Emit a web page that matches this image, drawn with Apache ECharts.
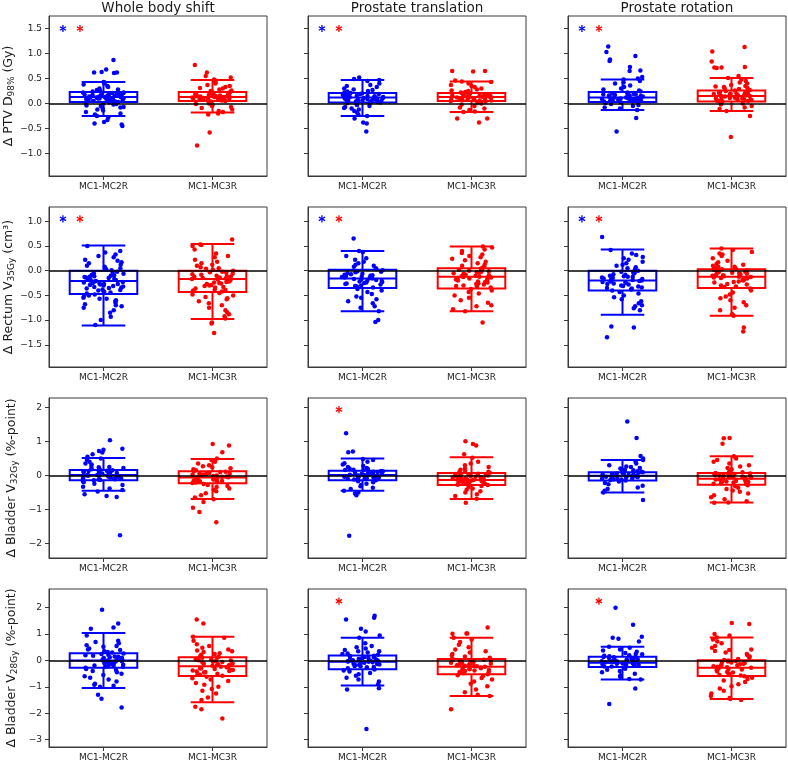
<!DOCTYPE html>
<html><head><meta charset="utf-8">
<script src="https://cdn.jsdelivr.net/npm/echarts@6/dist/echarts.min.js"></script>
<style>html,body{margin:0;padding:0;background:#fff}#c{width:788px;height:762px}</style>
</head><body><div id="c"></div>
<script>
// ---------- DATA ----------
const categories = ['MC1-MC2R', 'MC1-MC3R'];
const columnTitles = ['Whole body shift', 'Prostate translation', 'Prostate rotation'];
const rowLabels = [
  'Δ PTV D{s|98%} (Gy)',
  'Δ Rectum V{s|35Gy} (cm³)',
  'Δ Bladder V{s|32Gy} (%-point)',
  'Δ Bladder V{s|28Gy} (%-point)'
];
const yTickValues = [
  [-1.0, -0.5, 0.0, 0.5, 1.0, 1.5],
  [-1.5, -1.0, -0.5, 0.0, 0.5, 1.0],
  [-2, -1, 0, 1, 2],
  [-3, -2, -1, 0, 1, 2]
];
const yTickDecimals = [1, 1, 0, 0];
const yLimits = [[-1.45, 1.75], [-1.95, 1.29], [-2.42, 2.27], [-3.28, 2.71]];

// box stats per row: [wb MC2R, wb MC3R, pt MC2R, pt MC3R, pr MC2R, pr MC3R], each [low whisker, Q1, median, Q3, high whisker]
const box_ptv  = [[-0.25,0.03,0.13,0.23,0.43],[-0.18,0.05,0.13,0.23,0.47],[-0.25,0.02,0.12,0.21,0.47],[-0.17,0.05,0.13,0.21,0.44],[-0.13,0.03,0.12,0.23,0.48],[-0.15,0.04,0.15,0.26,0.51]];
const box_rect = [[-1.11,-0.47,-0.21,0.0,0.51],[-0.98,-0.43,-0.17,0.0,0.54],[-0.82,-0.35,-0.16,0.02,0.40],[-0.82,-0.36,-0.12,0.05,0.49],[-0.89,-0.40,-0.20,0.0,0.43],[-0.91,-0.35,-0.12,0.03,0.45]];
const box_bl32 = [[-0.45,-0.14,0.01,0.16,0.51],[-0.69,-0.23,-0.06,0.12,0.48],[-0.45,-0.14,0.01,0.14,0.50],[-0.69,-0.28,-0.13,0.07,0.53],[-0.50,-0.15,-0.01,0.09,0.45],[-0.79,-0.27,-0.10,0.07,0.56]];
const box_bl28 = [[-1.04,-0.28,0.0,0.27,1.04],[-1.58,-0.59,-0.22,0.12,0.90],[-0.95,-0.33,-0.05,0.19,0.86],[-1.35,-0.52,-0.24,0.06,0.86],[-0.72,-0.25,-0.09,0.14,0.52],[-1.46,-0.59,-0.28,0.01,0.87]];

// significance asterisks: y level per row, flags per column [MC2R(blue), MC3R(red)]
const sigLevel = [1.5, 1.05, 1.93, 2.25];
const sigFlags = [
  [[1,1],[1,1],[1,1]],
  [[1,1],[1,1],[1,1]],
  [[0,0],[0,1],[0,0]],
  [[0,0],[0,1],[0,1]]
];

// individual patient values
const ptv_wb_2 = [0.87,0.68,0.63,0.62,0.62,0.61,0.43,0.42,0.40,0.38,0.35,0.33,0.30,0.28,0.27,0.25,0.24,0.22,0.21,0.20,0.19,0.18,0.17,0.16,0.15,0.15,0.14,0.13,0.12,0.12,0.11,0.10,0.10,0.09,0.08,0.07,0.06,0.05,0.05,0.04,0.03,0.02,0.01,0.00,-0.01,-0.02,-0.04,-0.05,-0.07,-0.08,-0.10,-0.12,-0.14,-0.17,-0.20,-0.22,-0.25,-0.28,-0.33,-0.37,-0.40,-0.42,-0.45,0.05,0.07,0.09,0.11,0.13,0.14,0.16,0.18,0.20,0.22,0.08,0.12,0.17,0.19,0.21];
const ptv_wb_3 = [0.77,0.62,0.55,0.52,0.48,0.46,0.45,0.42,0.40,0.37,0.35,0.33,0.31,0.30,0.28,0.26,0.25,0.23,0.22,0.21,0.20,0.19,0.18,0.17,0.16,0.15,0.14,0.13,0.13,0.12,0.11,0.10,0.09,0.08,0.07,0.06,0.05,0.04,0.03,0.02,0.00,-0.01,-0.03,-0.05,-0.07,-0.09,-0.12,-0.15,-0.17,-0.20,-0.22,-0.58,-0.84,0.06,0.08,0.10,0.12,0.14,0.15,0.17,0.19,0.21,0.11,0.13,0.16,0.18,0.09];
const ptv_pt_2 = [0.52,0.49,0.47,0.45,0.40,0.37,0.35,0.33,0.30,0.28,0.27,0.25,0.24,0.22,0.21,0.20,0.19,0.18,0.17,0.16,0.15,0.14,0.13,0.12,0.12,0.11,0.10,0.09,0.08,0.08,0.07,0.06,0.05,0.04,0.03,0.02,0.01,0.00,-0.02,-0.03,-0.05,-0.07,-0.09,-0.10,-0.12,-0.15,-0.18,-0.22,-0.25,-0.30,-0.38,-0.40,-0.56,0.03,0.05,0.07,0.09,0.11,0.13,0.15,0.17,0.19,0.06,0.10,0.14,0.04];
const ptv_pt_3 = [0.65,0.64,0.65,0.46,0.44,0.43,0.40,0.37,0.35,0.33,0.30,0.28,0.26,0.25,0.23,0.22,0.20,0.19,0.18,0.17,0.16,0.15,0.14,0.13,0.13,0.12,0.11,0.10,0.09,0.08,0.07,0.06,0.05,0.04,0.02,0.00,-0.02,-0.05,-0.08,-0.10,-0.13,-0.16,-0.17,-0.30,-0.30,-0.38,0.06,0.08,0.10,0.12,0.14,0.16,0.18,0.20,0.07,0.11,0.15,0.09,0.13,0.17];
const ptv_pr_2 = [1.14,1.03,0.95,0.88,0.85,0.73,0.66,0.65,0.53,0.50,0.48,0.45,0.42,0.40,0.36,0.33,0.30,0.28,0.26,0.24,0.22,0.21,0.20,0.19,0.18,0.17,0.16,0.15,0.14,0.13,0.12,0.12,0.11,0.10,0.09,0.08,0.07,0.06,0.05,0.04,0.03,0.02,0.01,-0.01,-0.03,-0.05,-0.08,-0.10,-0.13,-0.29,-0.56,0.04,0.06,0.08,0.10,0.12,0.14,0.16,0.18,0.20,0.05,0.09,0.13,0.07,0.11];
const ptv_pr_3 = [1.13,1.04,0.84,0.73,0.72,0.72,0.71,0.55,0.51,0.48,0.45,0.42,0.40,0.37,0.35,0.33,0.31,0.29,0.27,0.26,0.24,0.22,0.21,0.20,0.19,0.18,0.17,0.16,0.15,0.14,0.13,0.12,0.11,0.10,0.09,0.08,0.07,0.06,0.05,0.04,0.02,0.00,-0.02,-0.05,-0.08,-0.11,-0.15,-0.25,-0.67,0.05,0.08,0.10,0.12,0.15,0.18,0.20,0.23,0.25,0.07,0.13,0.16,0.22,0.30,0.34];

const rect_wb_2 = [0.50,0.40,0.37,0.33,0.30,0.27,0.22,0.20,0.17,0.15,0.12,0.10,0.08,0.05,0.03,0.01,-0.02,-0.04,-0.06,-0.08,-0.10,-0.12,-0.14,-0.15,-0.17,-0.19,-0.20,-0.21,-0.22,-0.24,-0.25,-0.27,-0.28,-0.30,-0.31,-0.33,-0.34,-0.36,-0.38,-0.40,-0.42,-0.44,-0.46,-0.48,-0.50,-0.52,-0.55,-0.57,-0.57,-0.60,-0.62,-0.65,-0.68,-0.70,-0.72,-0.75,-0.80,-0.85,-0.93,-1.00,-1.10,-0.05,-0.09,-0.13,-0.18,-0.23,-0.26,-0.29,-0.32,-0.35,-0.39,-0.43,-0.16,-0.27,-0.11];
const rect_wb_3 = [0.63,0.53,0.52,0.50,0.43,0.35,0.30,0.27,0.22,0.18,0.15,0.12,0.10,0.07,0.05,0.02,0.00,-0.02,-0.04,-0.06,-0.08,-0.10,-0.12,-0.14,-0.16,-0.17,-0.19,-0.21,-0.23,-0.25,-0.27,-0.29,-0.31,-0.33,-0.36,-0.38,-0.40,-0.42,-0.45,-0.48,-0.50,-0.53,-0.56,-0.58,-0.62,-0.66,-0.70,-0.75,-0.80,-0.84,-0.88,-0.92,-0.97,-1.05,-1.07,-1.26,-0.03,-0.07,-0.11,-0.15,-0.18,-0.22,-0.26,-0.30,-0.34,-0.39,-0.13,-0.20,-0.24,0.04];
const rect_pt_2 = [0.65,0.40,0.38,0.30,0.25,0.22,0.18,0.15,0.12,0.10,0.08,0.05,0.03,0.01,-0.01,-0.03,-0.05,-0.07,-0.09,-0.11,-0.13,-0.15,-0.16,-0.18,-0.20,-0.22,-0.24,-0.26,-0.28,-0.30,-0.32,-0.34,-0.37,-0.40,-0.43,-0.47,-0.52,-0.55,-0.58,-0.62,-0.66,-0.72,-0.75,-0.82,-1.00,-1.04,-0.02,-0.06,-0.10,-0.14,-0.17,-0.19,-0.23,-0.27,-0.31,-0.12,-0.21,-0.25,-0.08];
const rect_pt_3 = [0.49,0.47,0.43,0.40,0.36,0.33,0.30,0.27,0.24,0.21,0.18,0.15,0.12,0.10,0.08,0.06,0.04,0.02,0.00,-0.02,-0.04,-0.06,-0.08,-0.10,-0.12,-0.14,-0.16,-0.18,-0.20,-0.22,-0.24,-0.26,-0.28,-0.30,-0.32,-0.34,-0.37,-0.40,-0.43,-0.46,-0.50,-0.55,-0.60,-0.65,-0.70,-0.72,-0.78,-0.82,-1.05,0.03,-0.01,-0.05,-0.09,-0.13,-0.15,-0.19,-0.23,-0.27,-0.31,-0.11,-0.17,-0.07,-0.03];
const rect_pr_2 = [0.68,0.42,0.35,0.32,0.28,0.25,0.22,0.18,0.15,0.12,0.10,0.07,0.05,0.02,0.00,-0.02,-0.04,-0.06,-0.08,-0.10,-0.12,-0.14,-0.16,-0.18,-0.20,-0.22,-0.24,-0.26,-0.28,-0.30,-0.32,-0.34,-0.36,-0.38,-0.40,-0.43,-0.46,-0.50,-0.54,-0.58,-0.62,-0.66,-0.70,-0.72,-0.76,-0.80,-1.13,-1.15,-1.35,-0.03,-0.07,-0.11,-0.15,-0.19,-0.23,-0.27,-0.31,-0.35,-0.17,-0.21,-0.25,-0.13];
const rect_pr_3 = [0.45,0.42,0.38,0.35,0.33,0.30,0.25,0.20,0.17,0.14,0.12,0.10,0.08,0.06,0.04,0.03,0.02,0.00,-0.02,-0.04,-0.06,-0.08,-0.10,-0.12,-0.14,-0.16,-0.18,-0.20,-0.22,-0.24,-0.27,-0.30,-0.33,-0.36,-0.40,-0.44,-0.48,-0.52,-0.56,-0.60,-0.64,-0.70,-0.75,-0.80,-0.88,-0.91,-1.15,-1.23,0.01,-0.01,-0.03,-0.05,-0.07,-0.09,-0.11,-0.13,-0.15,-0.19,-0.23,-0.28,-0.32,0.05,0.08];

const bl32_wb_2 = [1.03,0.78,0.75,0.72,0.67,0.62,0.55,0.50,0.45,0.40,0.35,0.32,0.28,0.25,0.22,0.20,0.17,0.15,0.13,0.11,0.09,0.07,0.05,0.03,0.02,0.01,0.00,-0.01,-0.02,-0.04,-0.06,-0.08,-0.10,-0.12,-0.14,-0.17,-0.20,-0.24,-0.28,-0.33,-0.38,-0.43,-0.47,-0.55,-0.60,-0.63,-1.75,0.14,0.10,0.06,0.04,0.00,-0.03,-0.05,-0.07,-0.09,-0.11,-0.13,0.08,0.12,0.18,0.24];
const bl32_wb_3 = [0.92,0.88,0.68,0.50,0.45,0.40,0.35,0.30,0.27,0.24,0.21,0.18,0.15,0.12,0.10,0.08,0.06,0.04,0.02,0.00,-0.02,-0.04,-0.06,-0.08,-0.10,-0.12,-0.14,-0.16,-0.18,-0.20,-0.22,-0.25,-0.28,-0.31,-0.34,-0.38,-0.42,-0.46,-0.52,-0.58,-0.65,-0.70,-0.78,-0.95,-1.07,-1.37,0.11,0.07,0.03,-0.01,-0.03,-0.05,-0.07,-0.09,-0.11,-0.13,-0.15,-0.17,-0.19,-0.21,0.05];
const bl32_pt_2 = [1.24,0.70,0.68,0.48,0.45,0.40,0.36,0.32,0.28,0.25,0.22,0.19,0.17,0.15,0.13,0.11,0.09,0.07,0.05,0.03,0.02,0.01,0.00,-0.01,-0.03,-0.05,-0.07,-0.09,-0.11,-0.14,-0.17,-0.20,-0.24,-0.28,-0.32,-0.36,-0.40,-0.45,-0.50,-0.53,-0.58,-1.77,0.12,0.10,0.08,0.06,0.04,0.02,-0.02,-0.04,-0.06,-0.08,-0.10,-0.12,0.16,0.20];
const bl32_pt_3 = [1.00,0.92,0.88,0.62,0.52,0.40,0.35,0.30,0.25,0.20,0.17,0.14,0.11,0.08,0.06,0.04,0.02,0.00,-0.02,-0.04,-0.06,-0.08,-0.10,-0.12,-0.14,-0.16,-0.18,-0.20,-0.22,-0.25,-0.28,-0.31,-0.34,-0.38,-0.42,-0.46,-0.50,-0.55,-0.60,-0.68,-0.80,0.05,0.03,0.01,-0.01,-0.03,-0.05,-0.07,-0.09,-0.11,-0.13,-0.15,-0.17,-0.19,-0.21,-0.24,-0.27,0.10];
const bl32_pr_2 = [1.58,1.10,0.57,0.50,0.45,0.40,0.35,0.30,0.26,0.22,0.19,0.16,0.13,0.11,0.09,0.07,0.05,0.03,0.02,0.00,-0.01,-0.02,-0.04,-0.06,-0.08,-0.10,-0.12,-0.15,-0.18,-0.22,-0.26,-0.30,-0.35,-0.40,-0.45,-0.50,-0.72,0.08,0.06,0.04,0.01,-0.03,-0.05,-0.07,-0.09,-0.11,-0.13,0.12,0.15,0.20,0.25];
const bl32_pr_3 = [1.10,1.09,0.93,0.56,0.50,0.45,0.40,0.35,0.30,0.26,0.22,0.18,0.15,0.12,0.09,0.07,0.05,0.03,0.01,-0.01,-0.03,-0.05,-0.07,-0.09,-0.11,-0.13,-0.15,-0.17,-0.19,-0.21,-0.23,-0.26,-0.29,-0.32,-0.36,-0.40,-0.44,-0.48,-0.53,-0.58,-0.64,-0.70,-0.76,-0.79,-0.80,0.06,0.04,0.02,0.00,-0.02,-0.04,-0.06,-0.08,-0.10,-0.12,-0.14,-0.16,-0.18,-0.20,-0.24];

const bl28_wb_2 = [1.92,1.40,1.25,1.20,0.95,0.75,0.70,0.65,0.58,0.52,0.45,0.40,0.35,0.30,0.26,0.22,0.18,0.15,0.12,0.09,0.06,0.04,0.02,0.00,-0.02,-0.04,-0.06,-0.08,-0.10,-0.13,-0.16,-0.19,-0.22,-0.25,-0.28,-0.32,-0.36,-0.40,-0.45,-0.50,-0.55,-0.60,-0.65,-0.72,-0.80,-0.88,-0.92,-0.96,-1.00,-1.30,-1.45,-1.78,0.25,0.20,0.14,0.10,0.05,0.01,-0.03,-0.07,-0.11,-0.15,-0.20,-0.24,0.32,0.42,0.55];
const bl28_wb_3 = [1.55,1.40,0.90,0.86,0.75,0.62,0.55,0.48,0.42,0.38,0.32,0.27,0.22,0.18,0.14,0.10,0.07,0.04,0.01,-0.02,-0.05,-0.08,-0.11,-0.14,-0.17,-0.20,-0.23,-0.26,-0.29,-0.32,-0.35,-0.38,-0.42,-0.46,-0.50,-0.54,-0.58,-0.62,-0.67,-0.72,-0.78,-0.85,-0.92,-1.00,-1.08,-1.15,-1.25,-1.40,-1.50,-1.75,-1.85,-2.20,0.10,0.05,0.00,-0.06,-0.12,-0.18,-0.24,-0.30,-0.36,-0.44,-0.52,-0.40,0.25,0.35];
const bl28_pt_2 = [1.70,1.62,1.55,1.20,1.10,0.95,0.86,0.65,0.55,0.50,0.45,0.40,0.35,0.30,0.26,0.22,0.18,0.15,0.12,0.09,0.06,0.03,0.01,-0.01,-0.03,-0.05,-0.07,-0.09,-0.12,-0.15,-0.18,-0.22,-0.26,-0.30,-0.34,-0.38,-0.42,-0.47,-0.52,-0.58,-0.65,-0.72,-0.80,-0.90,-1.05,-1.10,-2.60,0.17,0.13,0.08,0.04,0.00,-0.04,-0.08,-0.13,-0.17,-0.21,-0.25,-0.29,0.25,0.35];
const bl28_pt_3 = [1.25,1.02,1.02,1.01,0.86,0.80,0.70,0.60,0.50,0.42,0.35,0.30,0.25,0.20,0.15,0.10,0.06,0.03,0.00,-0.03,-0.06,-0.09,-0.12,-0.15,-0.18,-0.21,-0.24,-0.27,-0.30,-0.33,-0.36,-0.40,-0.44,-0.48,-0.52,-0.56,-0.60,-0.66,-0.72,-0.80,-0.88,-0.98,-1.10,-1.20,-1.30,-1.35,-1.85,0.04,0.00,-0.05,-0.10,-0.16,-0.20,-0.25,-0.29,-0.34,-0.38,-0.43,-0.47,-0.22,-0.14];
const bl28_pr_2 = [2.00,1.35,0.90,0.86,0.82,0.72,0.52,0.48,0.42,0.38,0.33,0.28,0.24,0.20,0.16,0.13,0.10,0.07,0.04,0.02,0.00,-0.02,-0.04,-0.06,-0.08,-0.10,-0.12,-0.14,-0.17,-0.20,-0.23,-0.27,-0.31,-0.35,-0.40,-0.45,-0.50,-0.56,-0.62,-0.70,-0.72,-1.06,-1.65,0.12,0.09,0.05,0.01,-0.03,-0.07,-0.11,-0.15,-0.19,-0.23,0.18,0.25,-0.05,-0.13];
const bl28_pr_3 = [1.42,1.38,1.00,0.95,0.87,0.80,0.72,0.65,0.55,0.48,0.42,0.36,0.30,0.25,0.20,0.15,0.10,0.06,0.02,-0.02,-0.06,-0.10,-0.14,-0.18,-0.22,-0.26,-0.30,-0.34,-0.38,-0.42,-0.46,-0.50,-0.55,-0.60,-0.65,-0.70,-0.76,-0.82,-0.90,-0.98,-1.06,-1.15,-1.25,-1.35,-1.42,-1.46,-1.50,0.00,-0.04,-0.08,-0.12,-0.20,-0.28,-0.32,-0.36,-0.44,-0.52,-0.57,-0.24,-0.16,0.40];

// ---------- ASSEMBLY ----------
const boxes = [box_ptv, box_rect, box_bl32, box_bl28];
const points = [
  [ptv_wb_2, ptv_wb_3, ptv_pt_2, ptv_pt_3, ptv_pr_2, ptv_pr_3],
  [rect_wb_2, rect_wb_3, rect_pt_2, rect_pt_3, rect_pr_2, rect_pr_3],
  [bl32_wb_2, bl32_wb_3, bl32_pt_2, bl32_pt_3, bl32_pr_2, bl32_pr_3],
  [bl28_wb_2, bl28_wb_3, bl28_pt_2, bl28_pt_3, bl28_pr_2, bl28_pr_3]
];
const COLORS = ['#0000ff', '#ff0000'];
const FONT = 'DejaVu Sans';
const colLeft = [49, 308, 568], panelW = 218;
const rowTop = [16, 207, 398, 589], panelH = 160;

// deterministic horizontal jitter (strip-plot spread), layout only
function jitter(i, g) {
  const h = Math.sin((i + 1) * 12.9898 + (g + 1) * 78.233) * 43758.5453;
  return (h - Math.floor(h)) - 0.5;
}

function renderBox(params, api) {
  const x = api.value(0), lo = api.value(1), q1 = api.value(2), med = api.value(3), q3 = api.value(4), hi = api.value(5);
  const color = COLORS[params.dataIndex];
  const bw = 0.31, cw = 0.2;
  const tl = api.coord([x - bw, q3]), br = api.coord([x + bw, q1]);
  const m = api.coord([x, med]), cLo = api.coord([x, lo]), cHi = api.coord([x, hi]);
  const cl = api.coord([x - cw, lo])[0], cr = api.coord([x + cw, lo])[0];
  const st = { stroke: color, lineWidth: 2, fill: null };
  return { type: 'group', children: [
    { type: 'rect', shape: { x: tl[0], y: tl[1], width: br[0] - tl[0], height: br[1] - tl[1] }, style: st },
    { type: 'line', shape: { x1: tl[0], y1: m[1], x2: br[0], y2: m[1] }, style: st },
    { type: 'line', shape: { x1: m[0], y1: tl[1], x2: m[0], y2: cHi[1] }, style: st },
    { type: 'line', shape: { x1: m[0], y1: br[1], x2: m[0], y2: cLo[1] }, style: st },
    { type: 'line', shape: { x1: cl, y1: cHi[1], x2: cr, y2: cHi[1] }, style: st },
    { type: 'line', shape: { x1: cl, y1: cLo[1], x2: cr, y2: cLo[1] }, style: st }
  ]};
}
function renderStar(params, api) {
  const c = api.coord([api.value(0), api.value(1)]);
  const color = COLORS[api.value(2)];
  const r = 3.6, kids = [];
  for (let k = 0; k < 3; k++) {
    const a = Math.PI / 2 + k * Math.PI / 3;
    kids.push({ type: 'line', shape: { x1: c[0] - r * Math.cos(a), y1: c[1] - r * Math.sin(a), x2: c[0] + r * Math.cos(a), y2: c[1] + r * Math.sin(a) }, style: { stroke: color, lineWidth: 1.3 } });
  }
  return { type: 'group', children: kids };
}

const grids = [], xAxes = [], yAxes = [], series = [], titles = [];
columnTitles.forEach((t, c) => titles.push({
  text: t, left: colLeft[c] + panelW / 2, top: 1, textAlign: 'center', padding: 0,
  textStyle: { fontSize: 13.5, fontWeight: 'normal', color: '#1a1a1a', fontFamily: FONT }
}));

for (let r = 0; r < 4; r++) {
  for (let c = 0; c < 3; c++) {
    const g = grids.length;
    grids.push({ left: colLeft[c], top: rowTop[r], width: panelW, height: panelH, show: true, borderColor: '#3a3a3a', borderWidth: 1, backgroundColor: 'transparent' });
    xAxes.push({
      gridIndex: g, type: 'value', min: 0.5, max: 2.5,
      splitLine: { show: false },
      axisLine: { show: true, onZero: false, lineStyle: { color: '#3a3a3a', width: 1 } },
      axisTick: { show: true, customValues: [1, 2], length: 4, lineStyle: { color: '#3a3a3a' } },
      axisLabel: { customValues: [1, 2], formatter: v => categories[Math.round(v) - 1], fontSize: 9, color: '#222', fontFamily: FONT, margin: 6 }
    });
    const dec = yTickDecimals[r];
    yAxes.push({
      gridIndex: g, type: 'value', min: yLimits[r][0], max: yLimits[r][1],
      splitLine: { show: false },
      axisLine: { show: true, lineStyle: { color: '#3a3a3a', width: 1 } },
      axisTick: { show: true, customValues: yTickValues[r], length: 4, lineStyle: { color: '#3a3a3a' } },
      axisLabel: { show: c === 0, customValues: yTickValues[r], formatter: v => v.toFixed(dec).replace('-', '\u2212'), fontSize: 9, color: '#222', fontFamily: FONT, margin: 7 },
      name: c === 0 ? rowLabels[r] : '', nameLocation: 'middle', nameGap: 30, nameRotate: 90,
      nameTextStyle: { fontSize: 12.5, color: '#1a1a1a', fontFamily: FONT, rich: { s: { fontSize: 9, fontFamily: FONT, color: '#1a1a1a', padding: [5, 0, 0, 0] } } }
    });
    const bx = boxes[r];
    series.push({
      type: 'custom', xAxisIndex: g, yAxisIndex: g, z: 2, silent: true,
      renderItem: renderBox,
      data: [[1].concat(bx[c * 2]), [2].concat(bx[c * 2 + 1])]
    });
    for (let k = 0; k < 2; k++) {
      const vals = points[r][c * 2 + k];
      const gi = (r * 6 + c * 2 + k);
      series.push({
        type: 'scatter', xAxisIndex: g, yAxisIndex: g, z: 3, silent: true,
        symbol: 'circle', symbolSize: 4.5,
        itemStyle: { color: COLORS[k], opacity: 1 },
        data: vals.map((v, i) => [k + 1 + jitter(i, gi) * 0.38, v]),
        markLine: k === 1 ? {
          silent: true, symbol: ['none', 'none'], label: { show: false },
          lineStyle: { color: '#000', width: 1.5, type: 'solid' },
          data: [{ yAxis: 0 }], animation: false
        } : undefined
      });
    }
    const stars = [];
    sigFlags[r][c].forEach((f, k) => { if (f) stars.push([k === 0 ? 0.628 : 0.784, sigLevel[r], k]); });
    if (stars.length) series.push({ type: 'custom', xAxisIndex: g, yAxisIndex: g, z: 4, silent: true, renderItem: renderStar, data: stars });
  }
}

const chart = echarts.init(document.getElementById('c'), null, { renderer: 'canvas' });
chart.setOption({ animation: false, backgroundColor: '#fff', title: titles, grid: grids, xAxis: xAxes, yAxis: yAxes, series: series });
</script>
</body></html>
